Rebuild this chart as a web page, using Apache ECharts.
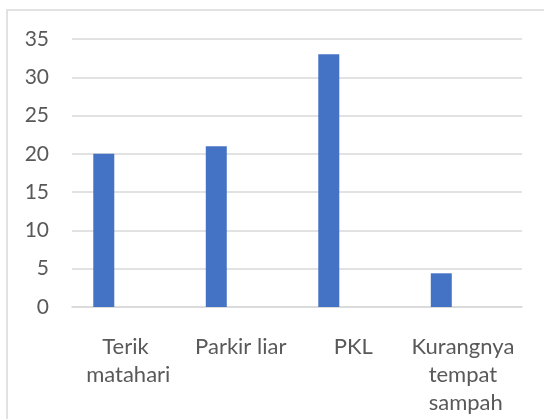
<!DOCTYPE html>
<html>
<head>
<meta charset="utf-8">
<script src="https://cdn.jsdelivr.net/npm/echarts@6/dist/echarts.min.js"></script>
<style>
  html, body { margin: 0; padding: 0; background: #fff; }
  #chart { width: 544px; height: 419px; }
</style>
</head>
<body>
<div id="chart"></div>
<script>
// kategori dan nilai
var categories = ['Terik matahari', 'Parkir liar', 'PKL', 'Kurangnya tempat sampah'];
var values = [20, 21, 33, 4.4];
var emptySeries = [null, null, null, null];
var yTicks = [0, 5, 10, 15, 20, 25, 30, 35];

var font = 'Lato, "Liberation Sans", sans-serif';

var option = {
    animation: false,
    grid: { left: 72, right: 22, top: 39, bottom: 112, containLabel: false },
    graphic: [{
        type: 'rect',
        shape: { x: 7, y: 10, width: 560, height: 430 },
        style: { fill: 'none', stroke: '#d9d9d9', lineWidth: 1.5 },
        silent: true
    }],
    xAxis: {
        type: 'category',
        data: categories,
        axisLine: { lineStyle: { color: '#d9d9d9', width: 1.5 } },
        axisTick: { show: false },
        axisLabel: {
            color: '#595959',
            fontFamily: font,
            fontSize: 22,
            lineHeight: 28,
            margin: 26,
            width: 110,
            overflow: 'break',
            interval: 0
        }
    },
    yAxis: {
        type: 'value',
        min: yTicks[0],
        max: yTicks[yTicks.length - 1],
        interval: 5,
        axisLine: { show: false },
        axisTick: { show: false },
        splitLine: { lineStyle: { color: '#d9d9d9', width: 1.5 } },
        axisLabel: { color: '#595959', fontFamily: font, fontSize: 21, margin: 23 }
    },
    series: [{
        type: 'bar',
        data: values,
        barWidth: 21,
        barGap: '133%',
        itemStyle: { color: '#4472c4' }
    }, {
        type: 'bar',
        data: emptySeries,
        barWidth: 21,
        itemStyle: { color: '#ed7d31' }
    }]
};

var myChart = echarts.init(document.getElementById('chart'));
myChart.setOption(option);
</script>
</body>
</html>
